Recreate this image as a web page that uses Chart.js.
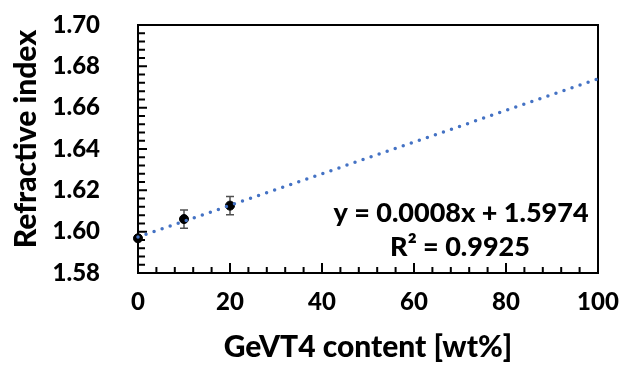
<!DOCTYPE html>
<html>
<head>
<meta charset="utf-8">
<script src="https://cdn.jsdelivr.net/npm/chart.js@4"></script>
<style>
  html, body { margin: 0; padding: 0; background: #fff; }
</style>
</head>
<body>
<canvas id="chart" width="624" height="372"></canvas>
<script>
// measured points (GeVT4 wt%, refractive index, error)
var contentValues = [0, 10, 20];
var indexValues = [1.5968, 1.6061, 1.6126];
var errorValues = [0.001, 0.0044, 0.0044];

// trend line ends as drawn in the picture
var trendX = [0, 100];
var trendY = [1.5974, 1.674];

var xTickLabels = [0, 20, 40, 60, 80, 100];
var yTickLabels = [1.58, 1.60, 1.62, 1.64, 1.66, 1.68, 1.70];

var yTitle = "Refractive index";
var xTitle = "GeVT4 content [wt%]";
var equationText = "y = 0.0008x + 1.5974";
var rSquaredText = "R\u00B2 = 0.9925";

var pointData = contentValues.map(function (x, i) { return { x: x, y: indexValues[i] }; });
var trendData = trendX.map(function (x, i) { return { x: x, y: trendY[i] }; });

var fontFamily = "Lato, 'Open Sans', sans-serif";
var fontWeight = '900';

var errorBars = {
  id: 'errorBars',
  beforeDatasetsDraw: function (chart) {
    var ctx = chart.ctx;
    var xs = chart.scales.x, ys = chart.scales.y;
    ctx.save();
    ctx.strokeStyle = '#505050';
    ctx.lineWidth = 1.5;
    for (let i = 0; i < contentValues.length; i++) {
      let px = xs.getPixelForValue(contentValues[i]);
      let top = ys.getPixelForValue(indexValues[i] + errorValues[i]);
      let bot = ys.getPixelForValue(indexValues[i] - errorValues[i]);
      ctx.beginPath();
      ctx.moveTo(px, top); ctx.lineTo(px, bot);
      ctx.moveTo(px - 4, top); ctx.lineTo(px + 4, top);
      ctx.moveTo(px - 4, bot); ctx.lineTo(px + 4, bot);
      ctx.stroke();
    }
    ctx.restore();
  }
};

var frameAndTicks = {
  id: 'frameAndTicks',
  beforeDatasetsDraw: function (chart) {
    var ctx = chart.ctx;
    var a = chart.chartArea;
    var xs = chart.scales.x, ys = chart.scales.y;
    ctx.save();
    ctx.strokeStyle = '#000';
    ctx.lineWidth = 2;
    ctx.beginPath();
    // x ticks, inside, minor every 4
    for (let v = 0; v <= 100; v += 4) {
      let px = xs.getPixelForValue(v);
      let len = (v % 20 === 0) ? 10 : 6;
      ctx.moveTo(px, a.bottom); ctx.lineTo(px, a.bottom - len);
    }
    // y ticks, inside, minor every 0.004
    for (let k = 0; k <= 30; k++) {
      let py = ys.getPixelForValue(1.58 + k * 0.004);
      let len = (k % 5 === 0) ? 9 : 7;
      ctx.moveTo(a.left, py); ctx.lineTo(a.left + len, py);
    }
    ctx.stroke();
    ctx.strokeRect(a.left, a.top, a.right - a.left, a.bottom - a.top);
    ctx.restore();
  },
  afterDraw: function (chart) {
    var ctx = chart.ctx;
    var a = chart.chartArea;
    ctx.save();
    ctx.fillStyle = '#000';
    ctx.textAlign = 'center';
    ctx.textBaseline = 'middle';
    // y axis title, sits a bit above the plot's middle
    ctx.save();
    ctx.translate(26, (a.top + a.bottom) / 2 - 10);
    ctx.rotate(-Math.PI / 2);
    ctx.font = fontWeight + ' 30px ' + fontFamily;
    ctx.fillText(yTitle, 0, 0);
    ctx.restore();
    // trend line equation
    ctx.font = fontWeight + ' 27px ' + fontFamily;
    ctx.fillText(equationText, a.right - 137, a.bottom - 60);
    ctx.fillText(rSquaredText, a.right - 138, a.bottom - 26);
    ctx.restore();
  }
};

function noScalePadding(axis) {
  axis.paddingTop = 0;
  axis.paddingBottom = 0;
  axis.paddingLeft = 0;
  axis.paddingRight = 0;
}

new Chart(document.getElementById("chart"), {
  type: 'scatter',
  data: {
    datasets: [{
      data: trendData,
      showLine: true,
      borderColor: '#4472C4',
      borderWidth: 3.5,
      borderDash: [0, 8.5],
      borderCapStyle: 'round',
      pointRadius: 0,
      clip: false,
      order: 0
    }, {
      data: pointData,
      backgroundColor: '#000',
      borderColor: '#000',
      pointRadius: 4.5,
      clip: false,
      order: 1
    }]
  },
  options: {
    responsive: false,
    animation: false,
    layout: { padding: { left: 0, right: 26, top: 25, bottom: 0 } },
    plugins: {
      legend: { display: false },
      tooltip: { enabled: false }
    },
    scales: {
      x: {
        type: 'linear',
        min: 0,
        max: 100,
        afterBuildTicks: function (axis) {
          axis.ticks = xTickLabels.map(function (v) { return { value: v }; });
        },
        afterFit: function (axis) { axis.height = 99; noScalePadding(axis); },
        grid: { display: false, drawTicks: false },
        border: { display: false },
        ticks: {
          color: '#000',
          padding: 15,
          maxRotation: 0,
          font: { family: fontFamily, size: 24, weight: fontWeight }
        },
        title: {
          display: true,
          text: xTitle,
          color: '#000',
          padding: { top: 0, bottom: 7 },
          font: { family: fontFamily, size: 30, weight: fontWeight }
        }
      },
      y: {
        min: 1.58,
        max: 1.70,
        afterBuildTicks: function (axis) {
          axis.ticks = yTickLabels.map(function (v) { return { value: v }; });
        },
        afterFit: function (axis) { axis.width = 138; noScalePadding(axis); },
        grid: { display: false, drawTicks: false },
        border: { display: false },
        ticks: {
          color: '#000',
          padding: 38,
          callback: function (v) { return Number(v).toFixed(2); },
          font: { family: fontFamily, size: 24, weight: fontWeight }
        },
        title: { display: false }
      }
    }
  },
  plugins: [errorBars, frameAndTicks]
});
</script>
</body>
</html>
